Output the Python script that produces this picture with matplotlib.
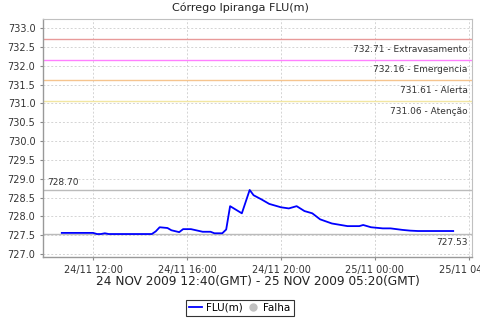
import matplotlib
matplotlib.use("Agg")
import matplotlib.pyplot as plt
import matplotlib.dates as mdates
from matplotlib.lines import Line2D
from datetime import datetime

title = "Córrego Ipiranga FLU(m)"
xlabel = "24 NOV 2009 12:40(GMT) - 25 NOV 2009 05:20(GMT)"

times = ["2009-11-24 10:40", "2009-11-24 12:00", "2009-11-24 12:10", "2009-11-24 12:20",
         "2009-11-24 12:30", "2009-11-24 12:40", "2009-11-24 14:30", "2009-11-24 14:40",
         "2009-11-24 14:50", "2009-11-24 15:10", "2009-11-24 15:20", "2009-11-24 15:40",
         "2009-11-24 15:50", "2009-11-24 16:10", "2009-11-24 16:40", "2009-11-24 17:00",
         "2009-11-24 17:10", "2009-11-24 17:30", "2009-11-24 17:40", "2009-11-24 17:50",
         "2009-11-24 18:20", "2009-11-24 18:40", "2009-11-24 18:50", "2009-11-24 19:10",
         "2009-11-24 19:30", "2009-11-24 20:00", "2009-11-24 20:20", "2009-11-24 20:40",
         "2009-11-24 21:00", "2009-11-24 21:20", "2009-11-24 21:40", "2009-11-24 22:10",
         "2009-11-24 22:50", "2009-11-24 23:20", "2009-11-24 23:30", "2009-11-24 23:50",
         "2009-11-25 00:20", "2009-11-25 00:40", "2009-11-25 01:10", "2009-11-25 01:30",
         "2009-11-25 01:50", "2009-11-25 03:20"]
levels = [727.56, 727.56, 727.53, 727.53, 727.55, 727.53, 727.53, 727.60,
          727.71, 727.69, 727.63, 727.58, 727.66, 727.66, 727.59, 727.59,
          727.55, 727.55, 727.65, 728.27, 728.08, 728.70, 728.56, 728.45,
          728.33, 728.24, 728.21, 728.27, 728.14, 728.08, 727.92, 727.81,
          727.74, 727.74, 727.77, 727.71, 727.68, 727.68, 727.64, 727.62,
          727.61, 727.61]

threshold_values = [732.71, 732.16, 731.61, 731.06]
threshold_names = ["Extravasamento", "Emergencia", "Alerta", "Atenção"]
threshold_colors = ["#e89a9a", "#ff80ff", "#f5c48e", "#f2e6a2"]

max_value = 728.70
min_value = 727.53

xtick_times = ["2009-11-24 12:00", "2009-11-24 16:00", "2009-11-24 20:00",
               "2009-11-25 00:00", "2009-11-25 04:00"]
xlim = ("2009-11-24 09:52", "2009-11-25 04:08")
ylim = (726.92, 733.24)
yticks = [727.0 + 0.5 * i for i in range(13)]

fmt = "%Y-%m-%d %H:%M"
t = [datetime.strptime(s, fmt) for s in times]

fig = plt.figure(figsize=(4.8, 3.2), dpi=100)
ax = fig.add_axes([43 / 480, 1 - 257 / 320, 429 / 480, 238 / 320])

ax.set_xlim(datetime.strptime(xlim[0], fmt), datetime.strptime(xlim[1], fmt))
ax.set_ylim(*ylim)

ax.grid(True, color="#d4d4d4", linestyle=(0, (2, 2)), linewidth=0.7)
ax.set_axisbelow(True)

for v, n, c in zip(threshold_values, threshold_names, threshold_colors):
    ax.axhline(v, color=c, linewidth=1.0)
    ax.annotate(f"{v:.2f} - {n}", xy=(1, v), xycoords=("axes fraction", "data"),
                xytext=(-3, -4), textcoords="offset points", ha="right", va="top",
                fontsize=6.5, color="#333333")

ax.axhline(max_value, color="#bbbbbb", linewidth=1.0)
ax.annotate(f"{max_value:.2f}", xy=(0, max_value), xycoords=("axes fraction", "data"),
            xytext=(3, 2), textcoords="offset points", ha="left", va="bottom",
            fontsize=6.5, color="#333333")
ax.axhline(min_value, color="#bbbbbb", linewidth=1.0)
ax.annotate(f"{min_value:.2f}", xy=(1, min_value), xycoords=("axes fraction", "data"),
            xytext=(-3, -3), textcoords="offset points", ha="right", va="top",
            fontsize=6.5, color="#333333")

ax.plot(t, levels, color="#0000ff", linewidth=1.3)

ax.set_xticks([datetime.strptime(s, fmt) for s in xtick_times])
ax.xaxis.set_major_formatter(mdates.DateFormatter("%d/%m %H:%M"))
ax.set_yticks(yticks)
ax.yaxis.set_major_formatter(matplotlib.ticker.FormatStrFormatter("%.1f"))
ax.tick_params(axis="both", labelsize=7, colors="#888888", labelcolor="#333333",
               length=2, width=0.8)

for s in ["top", "right"]:
    ax.spines[s].set_color("#c0c0c0")
    ax.spines[s].set_linewidth(0.8)
for s in ["left", "bottom"]:
    ax.spines[s].set_color("#999999")
    ax.spines[s].set_linewidth(1.0)

fig.text(0.5, 1 - 8 / 320, title, ha="center", va="center", fontsize=8, color="#222222")
fig.text(257.5 / 480, 1 - 282 / 320, xlabel, ha="center", va="center", fontsize=8.7,
         color="#222222")

handles = [Line2D([0], [0], color="#0000ff", linewidth=1.3),
           Line2D([0], [0], marker="o", color="none", markerfacecolor="#c0c0c0",
                  markeredgecolor="#c0c0c0", markersize=5)]
leg = fig.legend(handles, ["FLU(m)", "Falha"], loc="center",
                 bbox_to_anchor=(0.5, 1 - 308 / 320), ncol=2, fontsize=7.5,
                 frameon=True, fancybox=False, handlelength=1.2, handletextpad=0.4,
                 columnspacing=0.4, borderpad=0.3)
leg.get_frame().set_edgecolor("black")
leg.get_frame().set_linewidth(0.8)

fig.savefig("out.png", dpi=100)
